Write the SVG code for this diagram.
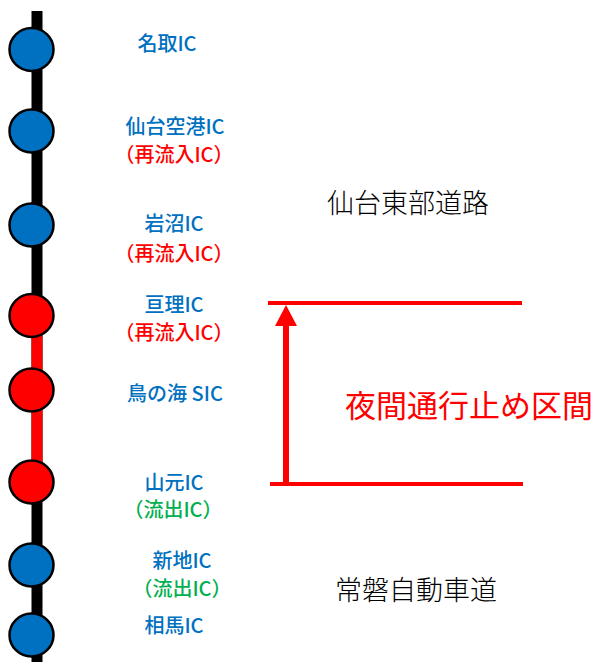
<svg xmlns="http://www.w3.org/2000/svg" width="599" height="662" viewBox="0 0 599 662">
<style>
.node{stroke:#000;stroke-width:2.5}
.b{fill:#0070C0}
.r{fill:#FF0000}
.lbl{font-family:"Noto Sans CJK JP","Noto Sans",sans-serif;font-size:20px;font-weight:500;text-anchor:middle;dominant-baseline:central}
.tb{fill:#0070C0}
.tr{fill:#FF0000}
.tg{fill:#00B050}
.road{font-family:"Noto Sans CJK JP",sans-serif;font-size:27px;font-weight:300;fill:#000;text-anchor:middle;dominant-baseline:central}
</style>
<rect width="599" height="662" fill="#fff"/>
<g id="connectors">
<line x1="37" y1="11" x2="37" y2="662" stroke="#000" stroke-width="11"/>
<line x1="37" y1="315" x2="37" y2="482" stroke="#FF0000" stroke-width="11"/>
<line x1="268" y1="303" x2="522" y2="303" stroke="#FF0000" stroke-width="4"/>
<line x1="270" y1="484" x2="523" y2="484" stroke="#FF0000" stroke-width="4"/>
<line x1="286" y1="484" x2="286" y2="322" stroke="#FF0000" stroke-width="6"/>
<polygon points="286,305 275,326 297,326" fill="#FF0000"/>
</g>
<g id="n1"><ellipse class="node b" cx="31.5" cy="49.5" rx="22" ry="21.5"/><text class="lbl tb" x="167" y="42">名取IC</text></g>
<g id="n2"><ellipse class="node b" cx="31.5" cy="131" rx="22" ry="21.5"/><text class="lbl tb" x="175" y="125">仙台空港IC</text><text class="lbl tr" x="174" y="153">（再流入IC）</text></g>
<g id="n3"><ellipse class="node b" cx="31.5" cy="225" rx="22" ry="21.5"/><text class="lbl tb" x="174" y="222">岩沼IC</text><text class="lbl tr" x="174" y="252">（再流入IC）</text></g>
<g id="n4"><ellipse class="node r" cx="31.5" cy="315.5" rx="22" ry="21.5"/><text class="lbl tb" x="174" y="303">亘理IC</text><text class="lbl tr" x="174" y="331">（再流入IC）</text></g>
<g id="n5"><ellipse class="node r" cx="31.5" cy="390" rx="22" ry="21.5"/><text class="lbl tb" x="175" y="392">鳥の海 SIC</text></g>
<g id="n6"><ellipse class="node r" cx="31.5" cy="482" rx="22" ry="21.5"/><text class="lbl tb" x="174" y="481">山元IC</text><text class="lbl tg" x="173" y="508">（流出IC）</text></g>
<g id="n7"><ellipse class="node b" cx="31.5" cy="565" rx="22" ry="21.5"/><text class="lbl tb" x="182" y="559">新地IC</text><text class="lbl tg" x="182" y="587">（流出IC）</text></g>
<g id="n8"><ellipse class="node b" cx="31.5" cy="635" rx="22" ry="21.5"/><text class="lbl tb" x="174" y="624">相馬IC</text></g>
<g id="labels">
<text class="road" x="408" y="201">仙台東部道路</text>
<text class="road" x="416" y="588">常磐自動車道</text>
<text x="469" y="403" font-family="Noto Sans CJK JP,sans-serif" font-size="31" fill="#FF0000" text-anchor="middle" dominant-baseline="central">夜間通行止め区間</text>
</g>
</svg>
